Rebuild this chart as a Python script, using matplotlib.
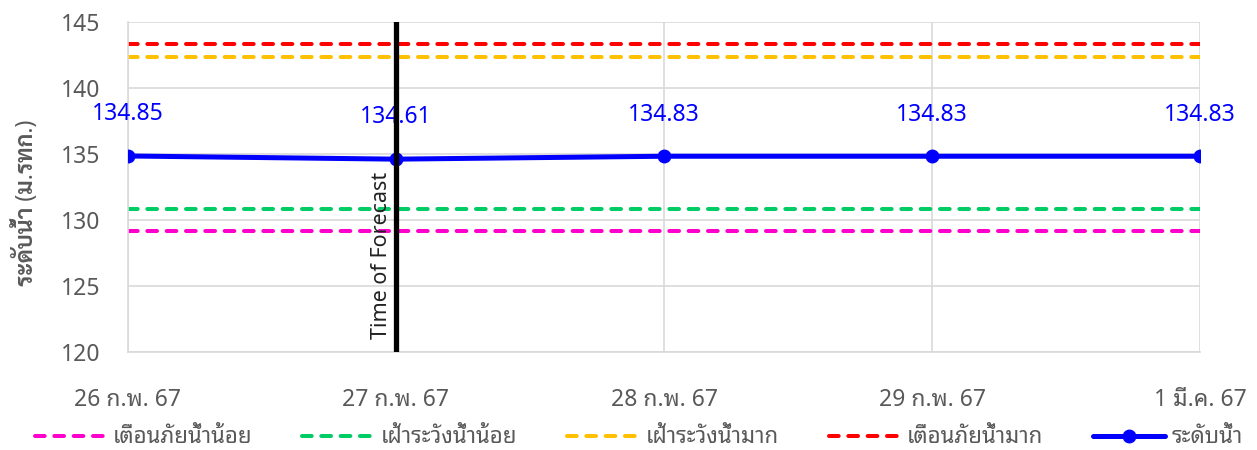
import numpy as np
import matplotlib.pyplot as plt

plt.rcParams['font.family'] = ['Noto Sans', 'Noto Sans Thai Looped', 'DejaVu Sans']

dates = ['26 ก.พ. 67', '27 ก.พ. 67', '28 ก.พ. 67', '29 ก.พ. 67', '1 มี.ค. 67']
level = [134.85, 134.61, 134.83, 134.83, 134.83]
warn_low = [129.17] * 5      # เตือนภัยน้ำน้อย
watch_low = [130.83] * 5     # เฝ้าระวังน้ำน้อย
watch_high = [142.35] * 5    # เฝ้าระวังน้ำมาก
warn_high = [143.33] * 5     # เตือนภัยน้ำมาก
forecast_idx = 1

x = np.arange(len(dates))

fig = plt.figure(figsize=(12.57, 4.5), dpi=100)
ax = fig.add_axes([0.1018, 0.2178, 0.8529, 0.7333])

dash = dict(lw=2.9, dashes=(2.4, 2.4), dash_capstyle='round')
ax.plot(x, warn_low, color='#ff00cc', label='เตือนภัยน้ำน้อย', **dash)
ax.plot(x, watch_low, color='#00cc66', label='เฝ้าระวังน้ำน้อย', **dash)
ax.plot(x, watch_high, color='#ffc000', label='เฝ้าระวังน้ำมาก', **dash)
ax.plot(x, warn_high, color='#ff0000', label='เตือนภัยน้ำมาก', **dash)
ax.plot(x, level, color='#0000ff', lw=3.6, marker='o', ms=9,
        solid_capstyle='round', label='ระดับน้ำ', zorder=5)

# ป้ายค่าระดับน้ำเหนือจุด
for xi, v in zip(x, level):
    ax.annotate(f'{v:.2f}', (xi, v), xytext=(0, 30), textcoords='offset points',
                ha='center', va='center', color='#0000ff', fontsize=16.5)

ax.axvline(forecast_idx, color='black', lw=3.8, zorder=6)
ax.text(forecast_idx - 0.015, 121.0, 'Time of Forecast', rotation=90,
        ha='right', va='bottom', fontsize=15.5, color='#222222', zorder=7)

ax.set_xlim(0, 4)
ax.set_ylim(120, 145)
ax.set_yticks(np.arange(120, 146, 5))
ax.set_xticks(x)
ax.set_xticklabels(dates)
ax.tick_params(axis='both', length=0, labelsize=16.5, labelcolor='#595959')
ax.tick_params(axis='x', pad=26)
ax.tick_params(axis='y', pad=20)
ax.grid(True, color='#d9d9d9', lw=1.2)
ax.set_axisbelow(True)
for s in ['top', 'right']:
    ax.spines[s].set_visible(False)
for s in ['left', 'bottom']:
    ax.spines[s].set_color('#d9d9d9')
    ax.spines[s].set_linewidth(1.2)

fig.text(26 / 1257, 0.549, 'ระดับน้ำ (ม.รทก.)', rotation=90, ha='center', va='center',
         fontsize=16.5, fontweight='bold', color='#595959',
         family=['Noto Sans', 'Sarabun', 'DejaVu Sans'])

fig.legend(loc='center', bbox_to_anchor=(0.508, 0.027), ncol=5, frameon=False,
           fontsize=16, handlelength=3.25, columnspacing=2.25, handletextpad=0.27,
           labelcolor='#595959')

fig.savefig('out.png', dpi=100)
